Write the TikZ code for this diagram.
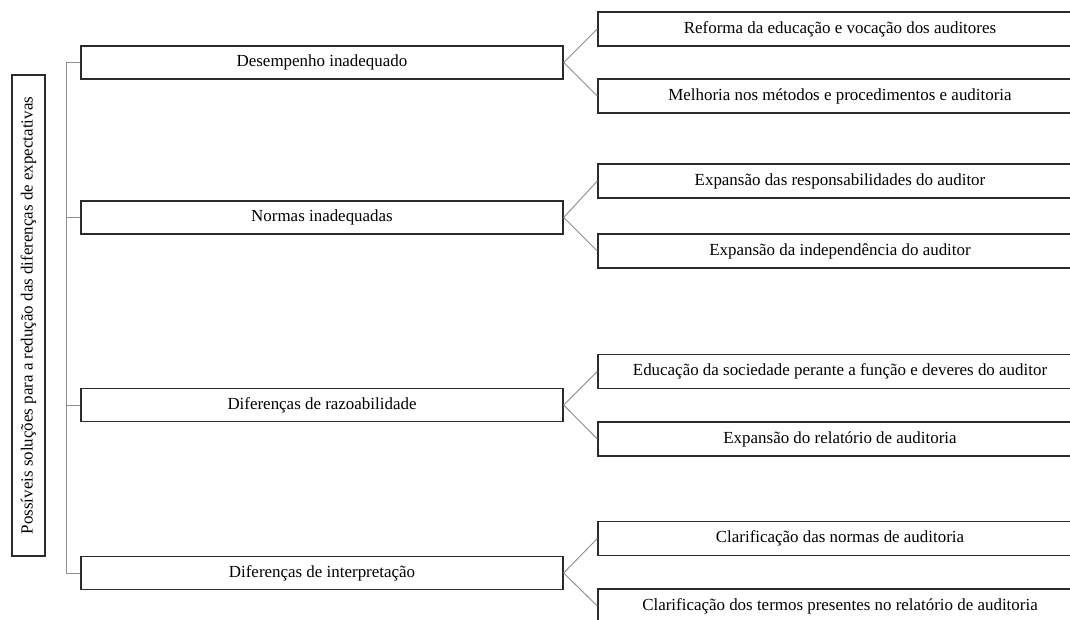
\documentclass[tikz,border=0pt]{standalone}
\usepackage{fontspec}
\setmainfont{Liberation Serif}
\usepackage{tikz}
\definecolor{gray800}{HTML}{2B2B2B}
\definecolor{gray500}{HTML}{8E8E8E}
\tikzstyle{caixa}=[rectangle, draw=gray800, line width=1pt, inner sep=0pt, font=\fontsize{12.7}{15}\selectfont]
\tikzstyle{causa}=[caixa, minimum width=361.5pt, minimum height=24.75pt]
\tikzstyle{solucao}=[caixa, minimum width=363pt, minimum height=25.5pt]
\tikzstyle{ligacao}=[draw=gray500, line width=0.7pt]

\begin{document}
\begin{tikzpicture}[x=0.75pt, y=-0.75pt]
				\useasboundingbox (0,0) rectangle (1070,619);
				\node[caixa, rotate=90, minimum width=360.75pt, minimum height=24.75pt] (raiz) at (28.5,315.5) {Possíveis soluções para a redução das diferenças de expectativas};
				\node[causa] (c1) at (322,62.5) {Desempenho inadequado};
				\node[causa] (c2) at (322,217.5) {Normas inadequadas};
				\node[causa] (c3) at (322,405) {Diferenças de razoabilidade};
				\node[causa] (c4) at (322,573) {Diferenças de interpretação};
				\node[solucao] (s11) at (840,29) {Reforma da educação e vocação dos auditores};
				\node[solucao] (s12) at (840,96) {Melhoria nos métodos e procedimentos e auditoria};
				\node[solucao] (s21) at (840,181) {Expansão das responsabilidades do auditor};
				\node[solucao] (s22) at (840,251) {Expansão da independência do auditor};
				\node[solucao] (s31) at (840,371.5) {Educação da sociedade perante a função e deveres do auditor};
				\node[solucao] (s32) at (840,439) {Expansão do relatório de auditoria};
				\node[solucao] (s41) at (840,538.5) {Clarificação das normas de auditoria};
				\node[solucao] (s42) at (840,606) {Clarificação dos termos presentes no relatório de auditoria};
				\coordinate (tronco) at (66,0);
				\path[ligacao] (c1.west) -- (c1.west -| tronco)
					-- (c4.west -| tronco) -- (c4.west);
				\path[ligacao] (c2.west -| tronco) -- (c2.west);
				\path[ligacao] (c3.west -| tronco) -- (c3.west);
				\foreach \c in {1,...,4}
					\path[ligacao] (s\c1.west) -- (c\c.east) -- (s\c2.west);
			\end{tikzpicture}
\end{document}
